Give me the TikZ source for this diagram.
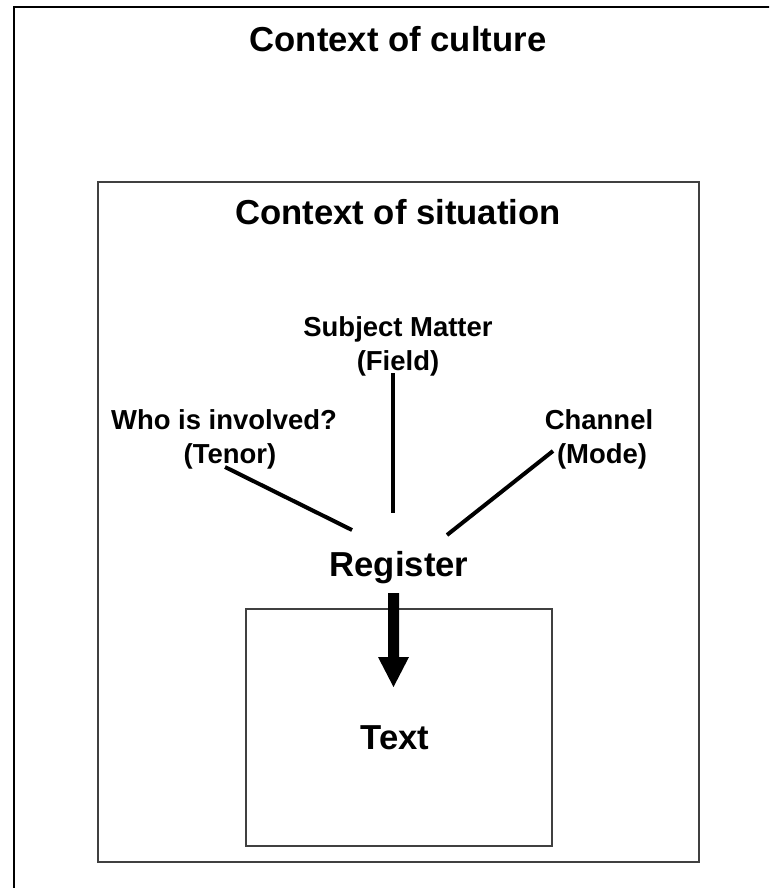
\documentclass[tikz,border=0pt]{standalone}
\usepackage{fontspec}
\setmainfont{Liberation Sans}
\begin{document}
\begin{tikzpicture}[x=0.75pt,y=-0.75pt,
  big/.style={font=\fontsize{26}{31}\selectfont\bfseries, inner sep=0pt, anchor=base},
  small/.style={font=\fontsize{20.6}{25}\selectfont\bfseries, inner sep=0pt, anchor=base},
  frame/.style={draw=black!75, line width=1.1pt},
  conn/.style={draw=black, line width=3pt}]
\useasboundingbox (0,0) rectangle (769,888);
\clip (0,0) rectangle (769,888);
% outer box (context of culture), extends beyond the page
\draw[draw=black, line width=1.2pt] (14,7) rectangle (820,940);
\node[big] (culture) at (398,52) {Context of culture};
% context of situation
\draw[frame] (98,182) rectangle (699,862);
\node[big] (situation) at (398,224) {Context of situation};
% text box
\draw[frame] (246,609) rectangle (552,846);
\node[big] (text) at (395,749) {Text};
% labels
\node[small] (field1) at (398,336) {Subject Matter};
\node[small] (field2) at (398,370) {(Field)};
\node[small] (tenor1) at (224,429) {Who is involved?};
\node[small] (tenor2) at (230,463) {(Tenor)};
\node[small] (mode1) at (599,429) {Channel};
\node[small] (mode2) at (602,463) {(Mode)};
\node[big] (register) at (399,576) {Register};
% connector endpoints
\coordinate (fieldA) at (393,373);
\coordinate (fieldB) at (393,513);
\coordinate (tenorA) at (225,467);
\coordinate (tenorB) at (352,530);
\coordinate (modeA) at (553,451);
\coordinate (modeB) at (447,535);
\draw[conn] (fieldA) -- (fieldB);
\draw[conn] (tenorA) -- (tenorB);
\draw[conn] (modeA) -- (modeB);
% thick arrow from register to text
\fill[black] (388,593) -- (399,593) -- (399,657) -- (409,657) -- (393.5,687)
  -- (378,657) -- (388,657) -- cycle;
\end{tikzpicture}
\end{document}
